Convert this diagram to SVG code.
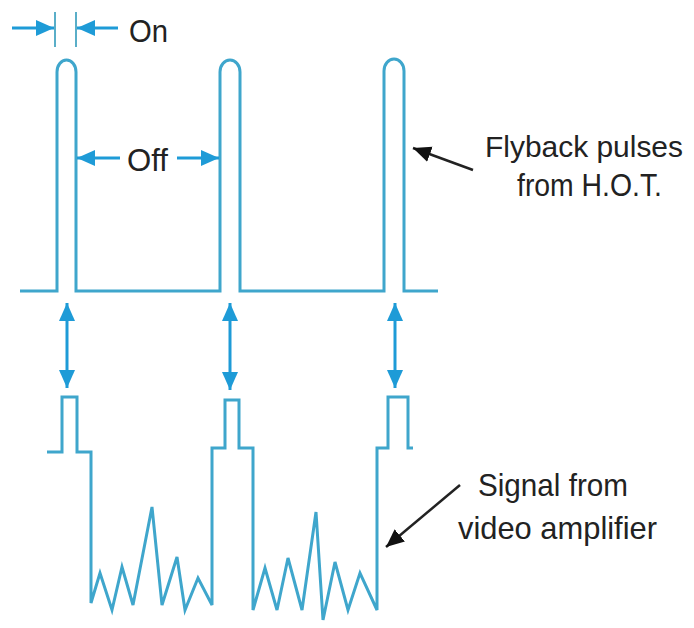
<svg xmlns="http://www.w3.org/2000/svg" width="694" height="628" viewBox="0 0 694 628">
<defs>
<style>
.wave{fill:none;stroke:#3fa6cc;stroke-width:3;stroke-linejoin:miter}
.arr{fill:none;stroke:#1e9bd7;stroke-width:3}
.tick{fill:none;stroke:#5aaec8;stroke-width:2}
.lead{fill:none;stroke:#222;stroke-width:2.5}
.lbl{font-family:"Liberation Sans",Arial,sans-serif;font-size:32px;fill:#222}
</style>
<marker id="hb" markerUnits="userSpaceOnUse" markerWidth="20" markerHeight="18" refX="18" refY="8" orient="auto-start-reverse" viewBox="0 0 20 16">
<path d="M0,0 L18,8 L0,16 Z" fill="#1e9bd7"/>
</marker>
<marker id="hk" markerUnits="userSpaceOnUse" markerWidth="20" markerHeight="18" refX="18" refY="8" orient="auto" viewBox="0 0 20 16">
<path d="M0,0 L18,8 L0,16 Z" fill="#111"/>
</marker>
</defs>
<rect width="694" height="628" fill="#fff"/>
<g id="flyback-wave">
<path class="wave" d="M20,291 H57 V72 A9.5,12 0 0 1 76,72 V291 H220 V72 A10,12 0 0 1 240,72 V291 H384 V71 A10,12 0 0 1 404,71 V291 H438"/>
</g>
<g id="video-wave">
<path class="wave" d="M47,452 H62 V397 H77 V452 H91 V603 L100,573 L112,610 L122,567 L133,605 L152,507 L162,605 L177,557 L185,610 L198,578 L212,605 V448 H225 V400 H239 V448 H253 V610 L265,568 L277,610 L288,558 L302,610 L316,512 L323,620 L335,562 L348,610 L360,573 L377,610 V448 H388 V397 H408 V448 H413"/>
</g>
<g id="on-label">
<line class="tick" x1="55" y1="12" x2="55" y2="47"/>
<line class="tick" x1="76" y1="12" x2="76" y2="47"/>
<text class="lbl" x="129" y="42" textLength="39" lengthAdjust="spacingAndGlyphs">On</text>
</g>
<g id="off-label">
<text class="lbl" x="127" y="171" textLength="41" lengthAdjust="spacingAndGlyphs">Off</text>
</g>
<g id="flyback-label">
<text class="lbl" x="485" y="157" style="font-size:30px" textLength="198" lengthAdjust="spacingAndGlyphs">Flyback pulses</text>
<text class="lbl" x="517" y="196" textLength="145" lengthAdjust="spacingAndGlyphs">from H.O.T.</text>
</g>
<g id="video-label">
<text class="lbl" x="478" y="496" textLength="150" lengthAdjust="spacingAndGlyphs">Signal from</text>
<text class="lbl" x="458" y="539" textLength="199" lengthAdjust="spacingAndGlyphs">video amplifier</text>
</g>
<g id="connectors">
<line class="arr" x1="12" y1="28" x2="54" y2="28" marker-end="url(#hb)"/>
<line class="arr" x1="118" y1="28" x2="77" y2="28" marker-end="url(#hb)"/>
<line class="arr" x1="120" y1="158" x2="77" y2="158" marker-end="url(#hb)"/>
<line class="arr" x1="177" y1="158" x2="219" y2="158" marker-end="url(#hb)"/>
<line class="arr" x1="67" y1="303" x2="67" y2="388" marker-start="url(#hb)" marker-end="url(#hb)"/>
<line class="arr" x1="230" y1="303" x2="230" y2="390" marker-start="url(#hb)" marker-end="url(#hb)"/>
<line class="arr" x1="395" y1="303" x2="395" y2="388" marker-start="url(#hb)" marker-end="url(#hb)"/>
<line class="lead" x1="473" y1="170" x2="413" y2="148" marker-end="url(#hk)"/>
<line class="lead" x1="460" y1="485" x2="386" y2="547" marker-end="url(#hk)"/>
</g>
</svg>
